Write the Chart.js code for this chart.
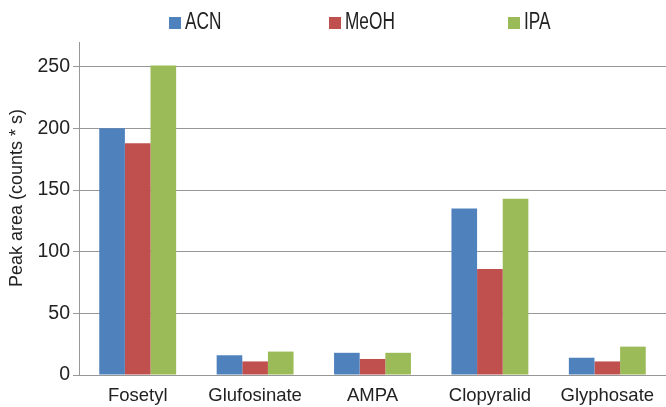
<!DOCTYPE html>
<html>
<head>
<meta charset="utf-8">
<script src="https://cdn.jsdelivr.net/npm/chart.js@4"></script>
<style>
  html, body { margin: 0; padding: 0; background: #fff; }
  #wrap { width: 666px; height: 407px; position: relative; }
</style>
</head>
<body>
<div id="wrap"><canvas id="peakChart"></canvas></div>
<script>
// DATA
const compounds = ['Fosetyl', 'Glufosinate', 'AMPA', 'Clopyralid', 'Glyphosate'];
const seriesNames = ['ACN', 'MeOH', 'IPA'];
const seriesColors = ['#4F81BD', '#C0504D', '#9BBB59'];
const acnValues = [200, 16, 18, 135, 14];
const meohValues = [188, 11, 13, 86, 11];
const ipaValues = [251, 19, 18, 143, 23];
const yTicks = [0, 50, 100, 150, 200, 250];
const yTitle = 'Peak area (counts * s)';

const gridGray = '#979797';
const textColor = '#222';

// legend + y title drawn by hand so spacing matches the original
const customText = {
  id: 'customText',
  afterDraw(chart) {
    const ctx = chart.ctx;
    ctx.save();
    // legend (narrow font faked with a horizontal squeeze)
    const boxX = [169, 329, 508];
    chart.data.datasets.forEach((ds, i) => {
      ctx.fillStyle = ds.backgroundColor;
      ctx.fillRect(boxX[i], 17, 12, 12);
      ctx.save();
      ctx.translate(boxX[i] + 16, 22.5);
      ctx.scale(0.75, 1);
      ctx.fillStyle = textColor;
      ctx.font = '23px "Liberation Sans", Arial, sans-serif';
      ctx.textBaseline = 'middle';
      ctx.textAlign = 'left';
      ctx.fillText(ds.label, 0, 0);
      ctx.restore();
    });
    // y axis title
    ctx.translate(17, 198);
    ctx.rotate(-Math.PI / 2);
    ctx.fillStyle = textColor;
    ctx.font = '18px "Liberation Sans", Arial, sans-serif';
    ctx.textAlign = 'center';
    ctx.textBaseline = 'middle';
    ctx.fillText(yTitle, 0, 0);
    ctx.restore();
  }
};

const valueSets = [acnValues, meohValues, ipaValues];

new Chart(document.getElementById('peakChart'), {
  type: 'bar',
  data: {
    labels: compounds,
    datasets: seriesNames.map((name, i) => ({
      label: name,
      data: valueSets[i],
      backgroundColor: seriesColors[i],
      borderWidth: 0,
      barPercentage: 1,
      categoryPercentage: 0.655
    }))
  },
  options: {
    responsive: true,
    maintainAspectRatio: false,
    animation: false,
    layout: { padding: { top: 42, right: 0, left: 0, bottom: 0 } },
    plugins: {
      legend: { display: false },
      tooltip: { enabled: false }
    },
    scales: {
      x: {
        grid: { display: false, drawTicks: false },
        border: { display: true, color: gridGray, width: 1 },
        ticks: {
          color: textColor,
          padding: 10,
          maxRotation: 0,
          font: { family: '"Liberation Sans", Arial, sans-serif', size: 18.5 }
        },
        afterFit(scale) { scale.height = 32; }
      },
      y: {
        min: 0,
        max: 270,
        afterBuildTicks(scale) {
          scale.ticks = yTicks.map(v => ({ value: v }));
        },
        grid: { color: gridGray, lineWidth: 1, tickLength: 6 },
        border: { display: true, color: gridGray, width: 1 },
        ticks: {
          color: textColor,
          padding: 3,
          font: { family: '"Liberation Sans", Arial, sans-serif', size: 19.5 }
        },
        afterFit(scale) { scale.width = 79; }
      }
    }
  },
  plugins: [customText]
});
</script>
</body>
</html>
